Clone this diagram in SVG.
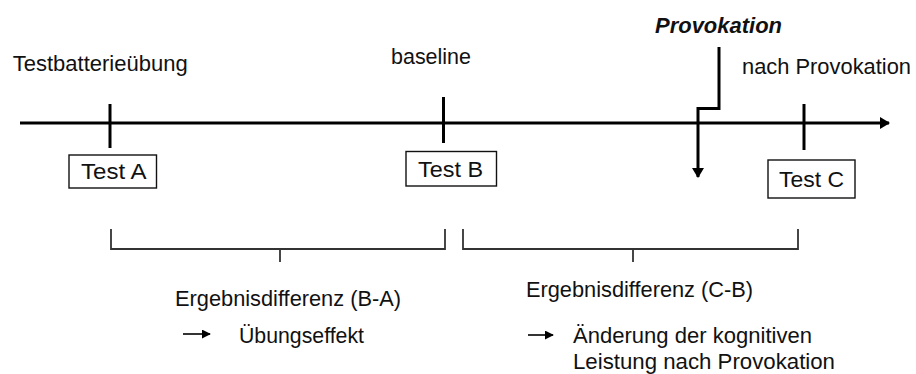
<svg xmlns="http://www.w3.org/2000/svg" width="916" height="374" viewBox="0 0 916 374">
<defs>
<style>
text{font-family:"Liberation Sans",Arial,sans-serif;font-size:21.5px;fill:#111}
.bold{font-weight:bold;font-style:italic;font-size:22.5px}
.lg{font-size:22px}
.box{fill:#fff;stroke:#111;stroke-width:1.4}
.axis{stroke:#000;stroke-width:3;fill:none}
.tick{stroke:#000;stroke-width:3}
.br{stroke:#333;stroke-width:1.8;fill:none}
</style>
<marker id="ah" viewBox="0 0 10 12" refX="9" refY="6" markerWidth="10" markerHeight="12" markerUnits="userSpaceOnUse" orient="auto">
<path d="M0,0 L10,6 L0,12 Z" fill="#000"/>
</marker>
<marker id="ahs" viewBox="0 0 10 10" refX="9" refY="5" markerWidth="9" markerHeight="9" markerUnits="userSpaceOnUse" orient="auto">
<path d="M0,0 L10,5 L0,10 Z" fill="#000"/>
</marker>
</defs>
<rect width="916" height="374" fill="#fff"/>
<g id="connectors">
<line class="axis" x1="20" y1="123" x2="889" y2="123" marker-end="url(#ah)"/>
<polyline class="axis" points="719,47 719,108.5 698,108.5 698,177" marker-end="url(#ah)"/>
<line class="tick" x1="110" y1="104" x2="110" y2="148"/>
<line class="tick" x1="443.5" y1="97" x2="443.5" y2="143"/>
<line class="tick" x1="804" y1="104" x2="804" y2="150"/>
<path class="br" d="M111,229 V249 H445 V229 M280,249 V262"/>
<path class="br" d="M463,229 V249 H798 V229 M633,249 V262"/>
<line stroke="#000" stroke-width="1.6" x1="183" y1="334" x2="210" y2="334" marker-end="url(#ahs)"/>
<line stroke="#000" stroke-width="1.6" x1="528" y1="335" x2="553" y2="335" marker-end="url(#ahs)"/>
</g>
<g id="label-testbatterie"><text x="12.7" y="71" textLength="175" lengthAdjust="spacingAndGlyphs">Testbatterieübung</text></g>
<g id="label-baseline"><text x="391" y="64" textLength="80" lengthAdjust="spacingAndGlyphs">baseline</text></g>
<g id="label-provokation"><text class="bold" x="655" y="32.5" textLength="127" lengthAdjust="spacingAndGlyphs">Provokation</text></g>
<g id="label-nach"><text x="742" y="74" textLength="169" lengthAdjust="spacingAndGlyphs">nach Provokation</text></g>
<g id="testA"><rect class="box" x="69" y="155" width="87.5" height="33"/><text x="81" y="178.5" textLength="65.5" lengthAdjust="spacingAndGlyphs">Test A</text></g>
<g id="testB"><rect class="box" x="406" y="151.5" width="90.5" height="34.5"/><text x="418" y="176.7" textLength="65" lengthAdjust="spacingAndGlyphs">Test B</text></g>
<g id="testC"><rect class="box" x="768" y="160" width="87" height="38"/><text x="779" y="187" textLength="65" lengthAdjust="spacingAndGlyphs">Test C</text></g>
<g id="diffBA">
<text class="lg" x="175" y="306" textLength="226" lengthAdjust="spacingAndGlyphs">Ergebnisdifferenz (B-A)</text>
<text class="lg" x="239" y="343" textLength="125" lengthAdjust="spacingAndGlyphs">Übungseffekt</text>
</g>
<g id="diffCB">
<text class="lg" x="526" y="297" textLength="227" lengthAdjust="spacingAndGlyphs">Ergebnisdifferenz (C-B)</text>
<text class="lg" x="573" y="343" textLength="239" lengthAdjust="spacingAndGlyphs">Änderung der kognitiven</text>
<text class="lg" x="573" y="369" textLength="262" lengthAdjust="spacingAndGlyphs">Leistung nach Provokation</text>
</g>
</svg>
